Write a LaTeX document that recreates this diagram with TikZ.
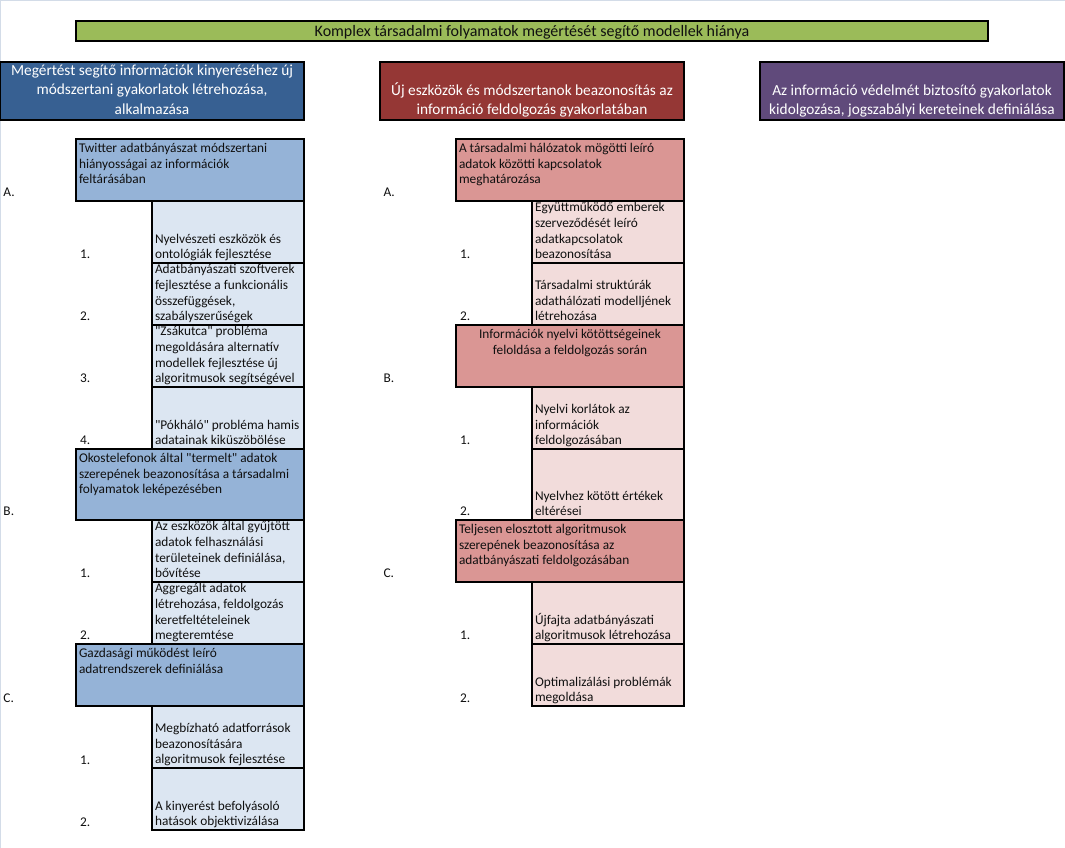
\documentclass[tikz,border=0pt]{standalone}
\usepackage{fontspec}
\setmainfont{Carlito}[Ligatures=TeXOff]
\usetikzlibrary{calc}
\definecolor{titlegreen}{HTML}{9BBB59}
\definecolor{hdblue}{HTML}{376092}
\definecolor{hdred}{HTML}{953735}
\definecolor{hdpurple}{HTML}{604A7B}
\definecolor{mainblue}{HTML}{95B3D7}
\definecolor{subblue}{HTML}{DCE6F2}
\definecolor{mainred}{HTML}{DA9694}
\definecolor{subred}{HTML}{F2DCDB}
\definecolor{framecol}{HTML}{D3DCE8}
\definecolor{ink}{HTML}{101010}
\tikzset{
  cellbox/.style={draw=black, line width=0.9pt, inner sep=0pt, outer sep=0pt, anchor=north west, rectangle},
  txt/.style={inner sep=0pt, outer sep=0pt, align=left, text=ink, font=\fontsize{10}{11.8}\selectfont},
  hdtxt/.style={inner sep=0pt, outer sep=0pt, align=center, text=white, font=\fontsize{11.5}{14.6}\selectfont},
  lbl/.style={inner sep=0pt, outer sep=0pt, anchor=base west, text=ink, font=\fontsize{10}{11.8}\selectfont},
}
\newcommand\cellnode[6]{\node[cellbox,fill=#6,minimum width={(#4-#2)*0.75pt},minimum height={(#5-#3)*0.75pt}] (#1) at (#2,#3) {};}
\newcommand\bottext[3]{\node[txt,anchor=south west] (#1) at ($(#2.south west)+(3,0.5)$) {#3\strut};}
\newcommand\toptext[3]{\node[txt,anchor=north west] (#1) at ($(#2.north west)+(3,2.3)$) {\strut #3};}
\newcommand\lab[4]{\node[lbl] (#1) at (#2,#3) {#4};}
\begin{document}
\begin{tikzpicture}[x=0.75pt,y=-0.75pt]
\useasboundingbox (0,0) rectangle (1065,848);
\fill[white] (0,0) rectangle (1065,848);
\draw[framecol, line width=1.2pt] (0.6,848) -- (0.6,0.6) -- (1065,0.6);

% title
\cellnode{title}{76}{21}{988}{41}{titlegreen}
\node[inner sep=0pt, anchor=base, text=ink, font=\fontsize{12}{14.6}\selectfont] (titletxt) at (532,37) {Komplex társadalmi folyamatok megértését segítő modellek hiánya};

% headers
\cellnode{hb}{0}{62}{304}{120}{hdblue}
\cellnode{hr}{380}{62}{684}{120}{hdred}
\cellnode{hp}{760}{62}{1064}{120}{hdpurple}
\node[hdtxt, anchor=center] (hbt) at (hb.center) {\strut Megértést segítő információk kinyeréséhez új\\ módszertani gyakorlatok létrehozása,\\ alkalmazása\strut};
\node[hdtxt, anchor=south] (hrt) at ($(hr.south)+(0,0.5)$) {Új eszközök és módszertanok beazonosítás az\\ információ feldolgozás gyakorlatában\strut};
\node[hdtxt, anchor=south] (hpt) at ($(hp.south)+(0,0.5)$) {Az információ védelmét biztosító gyakorlatok\\ kidolgozása, jogszabályi kereteinek definiálása\strut};

% left column
\cellnode{LA}{76}{139}{304}{201}{mainblue}
\cellnode{LA1}{152}{201}{304}{263}{subblue}
\cellnode{LA2}{152}{263}{304}{325}{subblue}
\cellnode{LA3}{152}{325}{304}{387}{subblue}
\cellnode{LA4}{152}{387}{304}{449}{subblue}
\cellnode{LB}{76}{449}{304}{520}{mainblue}
\cellnode{LB1}{152}{520}{304}{582}{subblue}
\cellnode{LB2}{152}{582}{304}{644}{subblue}
\cellnode{LC}{76}{644}{304}{706}{mainblue}
\cellnode{LC1}{152}{706}{304}{768}{subblue}
\cellnode{LC2}{152}{768}{304}{830}{subblue}

\toptext{tLA}{LA}{Twitter adatbányászat módszertani\\ hiányosságai az információk\\ feltárásában}
\bottext{tLA1}{LA1}{Nyelvészeti eszközök és\\ ontológiák fejlesztése}
\bottext{tLA2}{LA2}{Adatbányászati szoftverek\\ fejlesztése a funkcionális\\ összefüggések,\\ szabályszerűségek}
\bottext{tLA3}{LA3}{"Zsákutca" probléma\\ megoldására alternatív\\ modellek fejlesztése új\\ algoritmusok segítségével}
\bottext{tLA4}{LA4}{"Pókháló" probléma hamis\\ adatainak kiküszöbölése}
\toptext{tLB}{LB}{Okostelefonok által "termelt" adatok\\ szerepének beazonosítása a társadalmi\\ folyamatok leképezésében}
\bottext{tLB1}{LB1}{Az eszközök által gyűjtött\\ adatok felhasználási\\ területeinek definiálása,\\ bővítése}
\bottext{tLB2}{LB2}{Aggregált adatok\\ létrehozása, feldolgozás\\ keretfeltételeinek\\ megteremtése}
\toptext{tLC}{LC}{Gazdasági működést leíró\\ adatrendszerek definiálása}
\bottext{tLC1}{LC1}{Megbízható adatforrások\\ beazonosítására\\ algoritmusok fejlesztése}
\bottext{tLC2}{LC2}{A kinyerést befolyásoló\\ hatások objektivizálása}

\lab{lLA}{3.5}{197}{A.}
\lab{lLA1}{80}{259}{1.}
\lab{lLA2}{80}{321}{2.}
\lab{lLA3}{80}{383}{3.}
\lab{lLA4}{80}{445}{4.}
\lab{lLB}{3.5}{516}{B.}
\lab{lLB1}{80}{578}{1.}
\lab{lLB2}{80}{640}{2.}
\lab{lLC}{3.5}{702}{C.}
\lab{lLC1}{80}{764}{1.}
\lab{lLC2}{80}{826}{2.}

% right column
\cellnode{RA}{456}{139}{684}{201}{mainred}
\cellnode{RA1}{532}{201}{684}{263}{subred}
\cellnode{RA2}{532}{263}{684}{325}{subred}
\cellnode{RB}{456}{325}{684}{387}{mainred}
\cellnode{RB1}{532}{387}{684}{449}{subred}
\cellnode{RB2}{532}{449}{684}{520}{subred}
\cellnode{RC}{456}{520}{684}{582}{mainred}
\cellnode{RC1}{532}{582}{684}{644}{subred}
\cellnode{RC2}{532}{644}{684}{706}{subred}

\toptext{tRA}{RA}{A társadalmi hálózatok mögötti leíró\\ adatok közötti kapcsolatok\\ meghatározása}
\bottext{tRA1}{RA1}{Együttműködő emberek\\ szerveződését leíró\\ adatkapcsolatok\\ beazonosítása}
\bottext{tRA2}{RA2}{Társadalmi struktúrák\\ adathálózati modelljének\\ létrehozása}
\node[txt, align=center, anchor=north] (tRB) at ($(RB.north)+(0,2.3)$) {\strut Információk nyelvi kötöttségeinek\\ feloldása a feldolgozás során};
\bottext{tRB1}{RB1}{Nyelvi korlátok az\\ információk\\ feldolgozásában}
\bottext{tRB2}{RB2}{Nyelvhez kötött értékek\\ eltérései}
\toptext{tRC}{RC}{Teljesen elosztott algoritmusok\\ szerepének beazonosítása az\\ adatbányászati feldolgozásában}
\bottext{tRC1}{RC1}{Újfajta adatbányászati\\ algoritmusok létrehozása}
\bottext{tRC2}{RC2}{Optimalizálási problémák\\ megoldása}

\lab{lRA}{383.5}{197}{A.}
\lab{lRA1}{460}{259}{1.}
\lab{lRA2}{460}{321}{2.}
\lab{lRB}{383.5}{383}{B.}
\lab{lRB1}{460}{445}{1.}
\lab{lRB2}{460}{516}{2.}
\lab{lRC}{383.5}{578}{C.}
\lab{lRC1}{460}{640}{1.}
\lab{lRC2}{460}{702}{2.}
\end{tikzpicture}
\end{document}
